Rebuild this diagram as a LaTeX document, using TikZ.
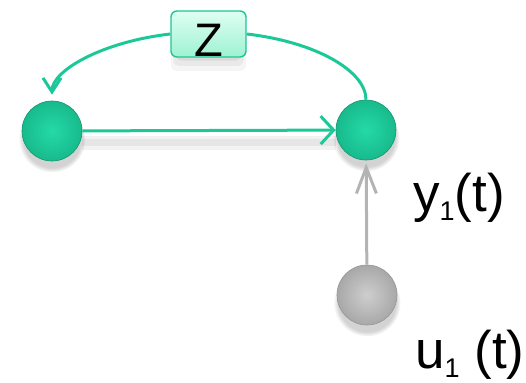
\documentclass[tikz,border=0pt]{standalone}
\usepackage{fontspec}
\setmainfont{Liberation Sans}
\usetikzlibrary{arrows.meta,shadows,calc}

\definecolor{linkgreen}{RGB}{29,200,152}
\definecolor{ballin}{RGB}{36,218,166}
\definecolor{ballout}{RGB}{24,186,140}
\definecolor{balledge}{RGB}{20,150,112}
\definecolor{grayin}{RGB}{206,206,206}
\definecolor{grayout}{RGB}{168,168,168}
\definecolor{grayedge}{RGB}{150,150,150}
\definecolor{grayline}{RGB}{180,180,180}
\definecolor{boxtop}{RGB}{222,255,242}
\definecolor{boxbottom}{RGB}{158,242,210}
\definecolor{boxedge}{RGB}{32,196,150}

\begin{document}
\begin{tikzpicture}[x=1pt,y=-1pt,
  state/.style={circle, minimum size=60pt, inner sep=0pt,
    draw=balledge, line width=0.6pt,
    inner color=ballin, outer color=ballout,
    circular drop shadow={shadow xshift=0pt, shadow yshift=-7pt,
      shadow scale=1.12, opacity=0.35}},
  inputstate/.style={state, draw=grayedge,
    inner color=grayin, outer color=grayout},
  % layered shadows give a soft, blurred edge under the box
  softshadow/.style={
    drop shadow={opacity=0.08, shadow xshift=0pt, shadow yshift=-14pt,
      shadow scale=1.0, rounded corners=10pt},
    drop shadow={opacity=0.10, shadow xshift=0pt, shadow yshift=-11pt,
      shadow scale=0.94, rounded corners=10pt},
    drop shadow={opacity=0.14, shadow xshift=0pt, shadow yshift=-8pt,
      shadow scale=0.86, rounded corners=10pt},
    drop shadow={opacity=0.18, shadow xshift=0pt, shadow yshift=-6pt,
      shadow scale=0.76, rounded corners=10pt}},
  zbox/.style={softshadow, rounded corners=6pt, draw=boxedge, line width=1.4pt,
    top color=boxtop, bottom color=boxbottom,
    minimum width=75pt, minimum height=46pt, inner sep=0pt,
    text height=46pt, text depth=0pt,
    font=\fontsize{47}{47}\selectfont},
  link/.style={draw=linkgreen, line width=3pt},
  inlink/.style={draw=grayline, line width=3pt},
  signal/.style={anchor=base west, inner sep=0pt,
    font=\fontsize{53}{53}\selectfont}
]
\useasboundingbox (0,0) rectangle (526,382);

% soft shadow under the forward link
\fill[black, opacity=0.05] (82,136) rectangle (336,150);
\fill[black, opacity=0.05] (82,139) rectangle (336,146);

% states
\node[state] (left) at (52,131) {};
\node[state] (right) at (366,130) {};
\node[inputstate] (input) at (367,295) {};

% delay operator
\node[zbox] (z) at (208.5,34) {Z};

% feedback loop through the delay
\draw[link] (right.north) .. controls (366,71) and (316,42) .. (z.east);
\draw[link, -{Straight Barb[length=14pt,width=18pt]}, shorten >=6pt]
  (z.west) .. controls (101,42) and (52,71) .. (left.north);

% forward link
\draw[link, -{Straight Barb[length=13pt,width=28pt]}] (left) -- (right);

% input link
\draw[inlink, -{Straight Barb[length=26pt,width=20pt]}, shorten >=3pt]
  (input) -- (right);

% signal labels
\node[signal] (ylab) at (413,211) {y\raisebox{-9pt}{\fontsize{27}{27}\selectfont 1}(t)};
\node[signal] (ulab) at (415,368) {u\raisebox{-9pt}{\fontsize{27}{27}\selectfont 1} (t)};
\end{tikzpicture}
\end{document}
